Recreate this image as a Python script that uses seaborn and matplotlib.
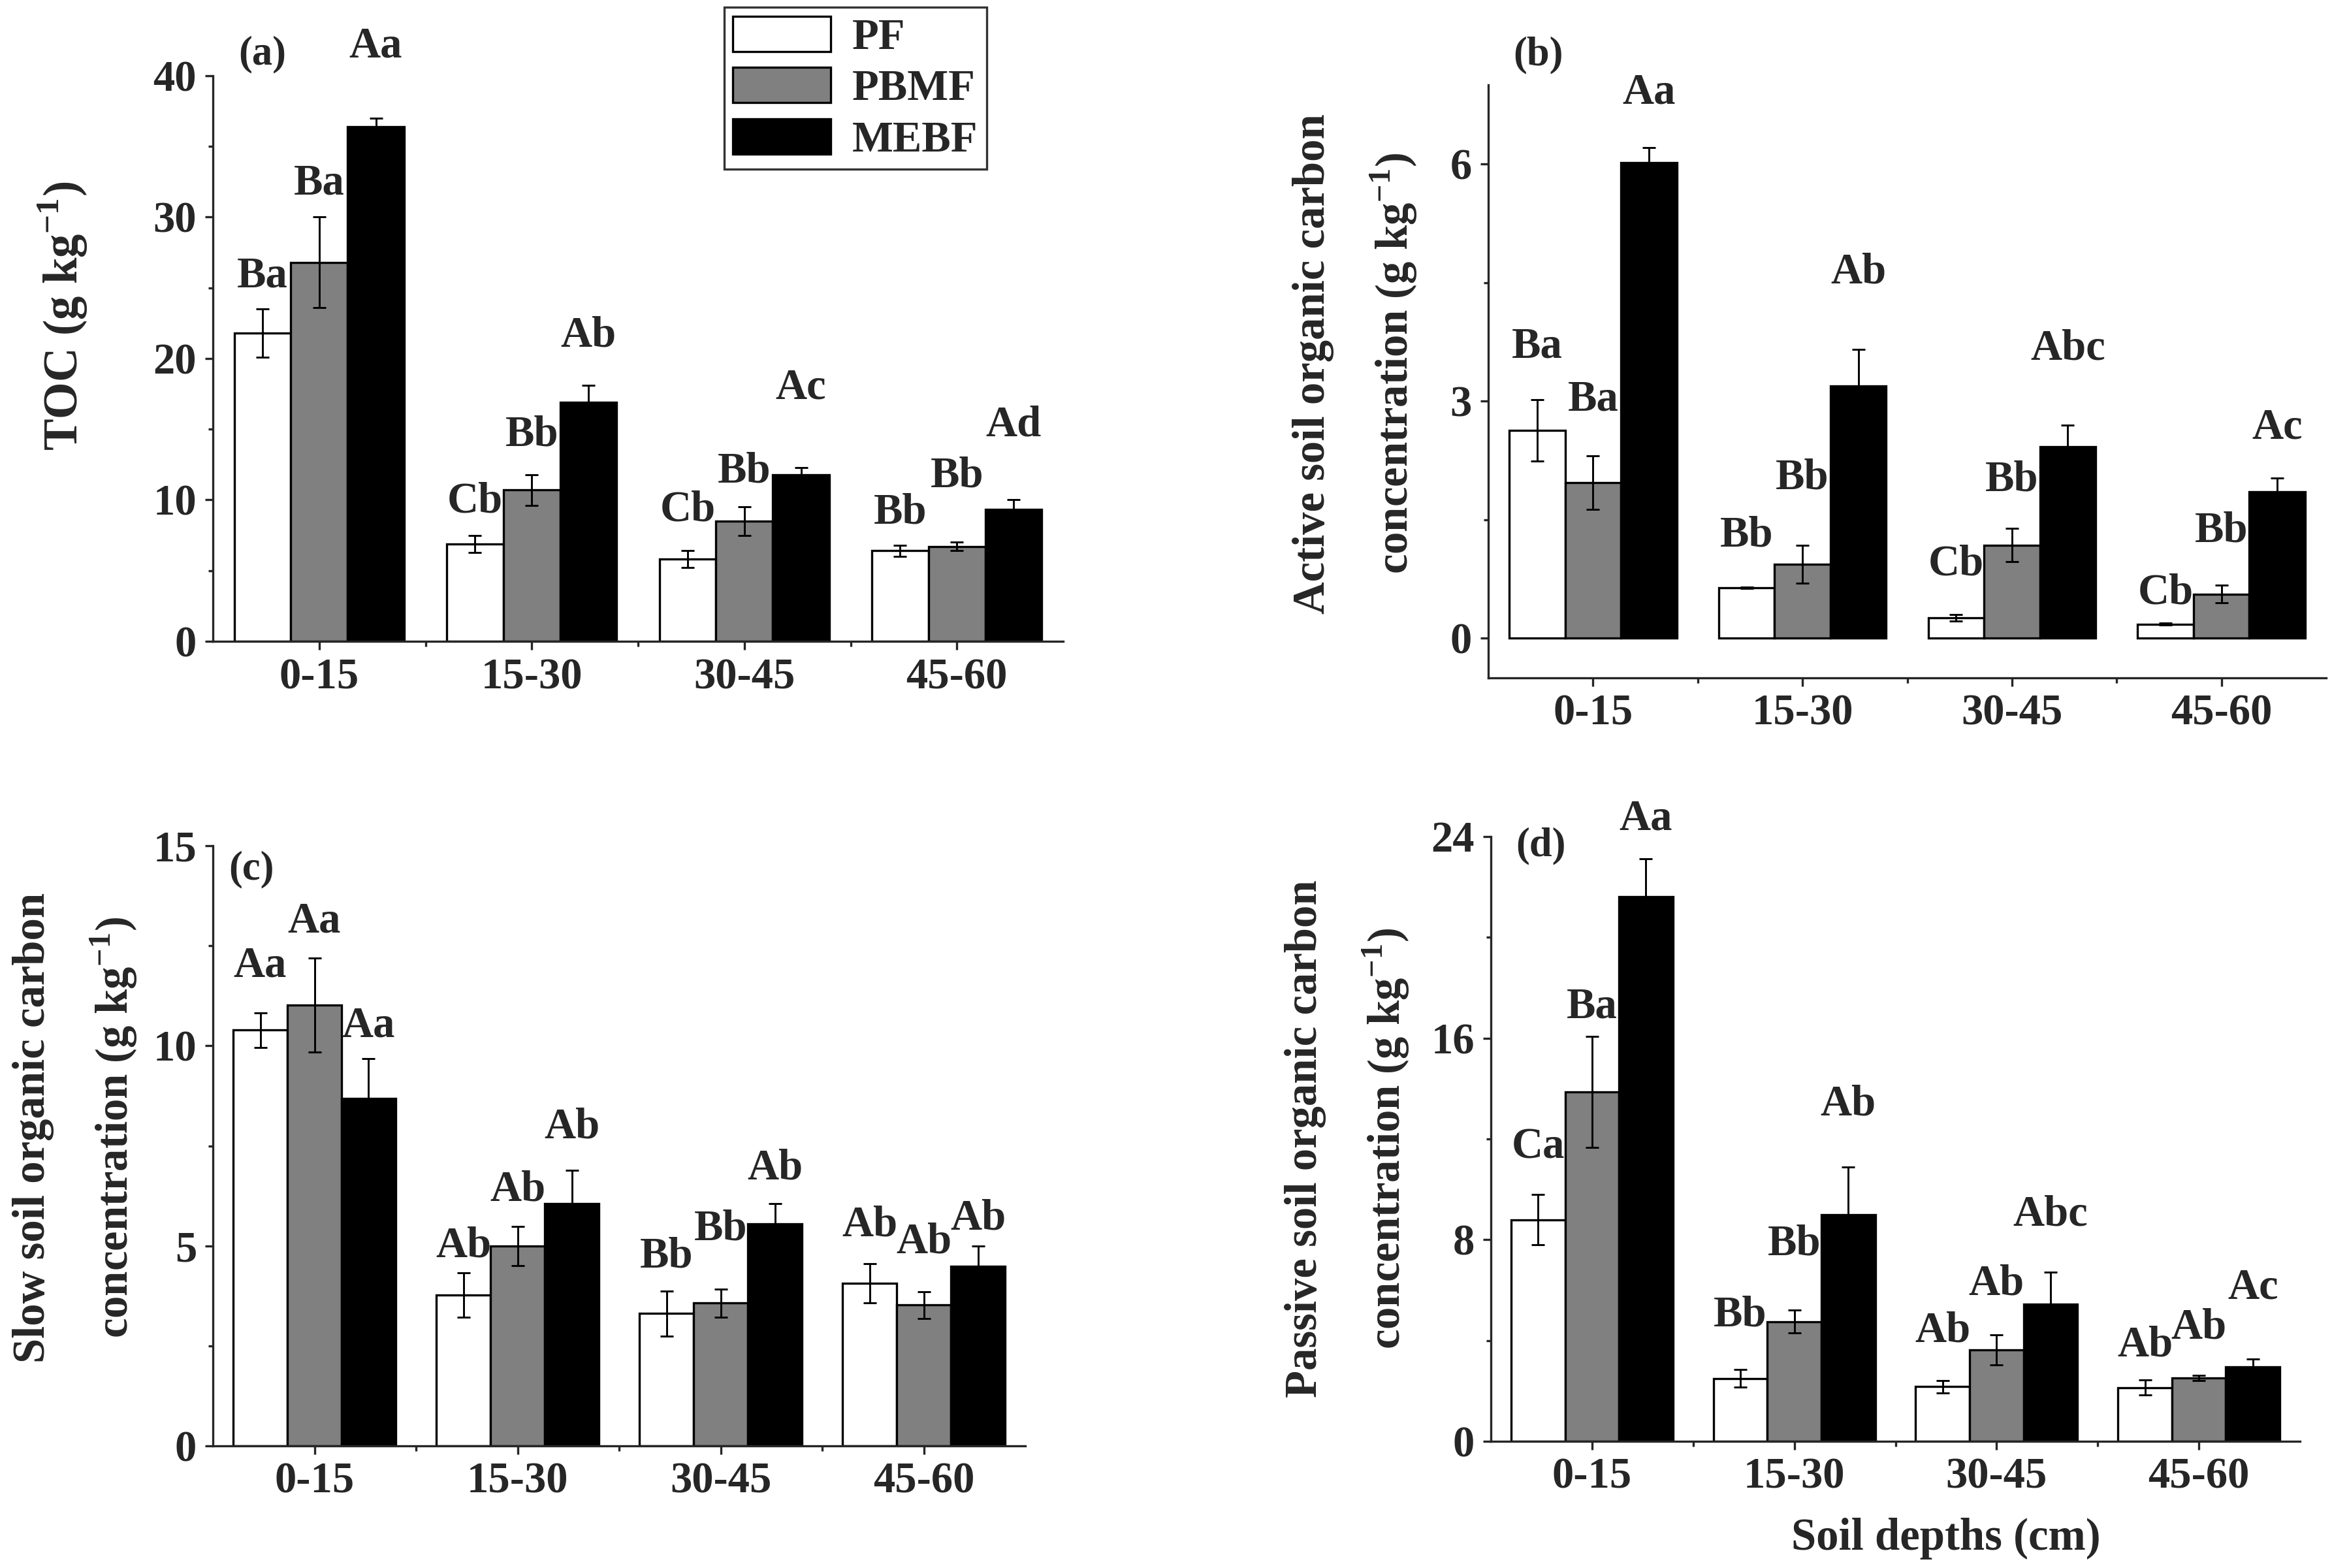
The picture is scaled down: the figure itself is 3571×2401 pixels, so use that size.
import numpy as np
import pandas as pd
import matplotlib
matplotlib.use('Agg')
import matplotlib.pyplot as plt
import seaborn as sns

# categories
depths = ['0-15', '15-30', '30-45', '45-60']
forests = ['PF', 'PBMF', 'MEBF']
bar_colors = ['white', '#808080', 'black']

# each panel: rows = PF, PBMF, MEBF ; columns = depth classes
toc_mean = [[21.8, 6.9, 5.8, 6.4], [26.8, 10.7, 8.5, 6.7], [36.4, 16.9, 11.8, 9.35]]
toc_err = [[1.7, 0.6, 0.6, 0.4], [3.2, 1.1, 1.0, 0.3], [0.6, 1.2, 0.5, 0.65]]
toc_letters = [['Ba', 'Cb', 'Cb', 'Bb'], ['Ba', 'Bb', 'Bb', 'Bb'], ['Aa', 'Ab', 'Ac', 'Ad']]
toc_label_y = [[25.8, 9.9, 9.3, 9.1], [32.4, 14.6, 12.0, 11.7], [42.1, 21.6, 17.9, 15.3]]

active_mean = [[2.63, 0.64, 0.26, 0.18], [1.97, 0.94, 1.18, 0.56], [6.02, 3.19, 2.42, 1.85]]
active_err = [[0.39, 0.01, 0.04, 0.01], [0.34, 0.24, 0.21, 0.11], [0.19, 0.46, 0.28, 0.18]]
active_letters = [['Ba', 'Bb', 'Cb', 'Cb'], ['Ba', 'Bb', 'Bb', 'Bb'], ['Aa', 'Ab', 'Abc', 'Ac']]
active_label_y = [[3.69, 1.30, 0.94, 0.57], [3.02, 2.03, 2.0, 1.36], [6.90, 4.63, 3.66, 2.66]]

slow_mean = [[10.39, 3.77, 3.31, 4.06], [11.02, 5.0, 3.57, 3.52], [8.69, 6.05, 5.55, 4.49]]
slow_err = [[0.44, 0.55, 0.56, 0.49], [1.17, 0.49, 0.35, 0.34], [0.99, 0.84, 0.5, 0.51]]
slow_letters = [['Aa', 'Ab', 'Bb', 'Ab'], ['Aa', 'Ab', 'Bb', 'Ab'], ['Aa', 'Ab', 'Ab', 'Ab']]
slow_label_y = [[12.0, 5.0, 4.74, 5.52], [13.1, 6.4, 5.42, 5.1], [10.5, 7.97, 6.93, 5.68]]

passive_mean = [[8.79, 2.49, 2.17, 2.13], [13.86, 4.75, 3.62, 2.52], [21.61, 8.99, 5.45, 2.96]]
passive_err = [[1.0, 0.35, 0.25, 0.3], [2.2, 0.45, 0.6, 0.1], [1.5, 1.9, 1.25, 0.3]]
passive_letters = [['Ca', 'Bb', 'Ab', 'Ab'], ['Ba', 'Bb', 'Ab', 'Ab'], ['Aa', 'Ab', 'Abc', 'Ac']]
passive_label_y = [[11.67, 5.01, 4.37, 3.82], [17.24, 7.83, 6.24, 4.51], [24.7, 13.36, 8.99, 6.1]]

sns.set_style('ticks')
plt.rcParams['font.family'] = ['Liberation Serif', 'DejaVu Serif']
plt.rcParams['font.weight'] = 'bold'
plt.rcParams['mathtext.fontset'] = 'custom'
plt.rcParams['mathtext.rm'] = 'Liberation Serif:bold'
plt.rcParams['mathtext.bf'] = 'Liberation Serif:bold'
plt.rcParams['axes.linewidth'] = 0.8

FS = 16


def draw_panel(ax, mean, err, letters, label_y, ylim, yticks, ylabel, ylabel_xy, ylabel_fs,
               tag, tag_xy, legend=False):
    rows = []
    for i, f in enumerate(forests):
        for j, d in enumerate(depths):
            rows.append({'depth': d, 'forest': f, 'value': mean[i][j]})
    df = pd.DataFrame(rows)
    sns.barplot(data=df, x='depth', y='value', hue='forest', order=depths, hue_order=forests,
                palette=bar_colors, saturation=1, edgecolor='black', linewidth=0.8,
                errorbar=None, width=0.8, ax=ax, legend=legend)
    bar_sets = list(ax.containers)
    for i, cont in enumerate(bar_sets):
        for j, bar in enumerate(cont):
            x = bar.get_x() + bar.get_width() / 2
            ax.errorbar(x, bar.get_height(), yerr=err[i][j], fmt='none', ecolor='black',
                        elinewidth=0.7, capsize=2.5, capthick=0.7)
            ax.text(x, label_y[i][j], letters[i][j], ha='center', va='center',
                    fontsize=FS, fontweight='bold')
    ax.set_xlim(-0.5, 3.5)
    ax.set_ylim(*ylim)
    ax.set_yticks(yticks)
    step = yticks[1] - yticks[0]
    ax.set_yticks(np.arange(yticks[0] + step / 2, ylim[1], step), minor=True)
    ax.set_xticks([0.5, 1.5, 2.5], minor=True)
    ax.tick_params(axis='both', which='major', labelsize=FS, length=3, width=0.8, pad=3)
    ax.tick_params(axis='both', which='minor', length=1.8, width=0.8)
    ax.set_xlabel('')
    ax.set_ylabel(ylabel, fontsize=ylabel_fs, fontweight='bold', va='center', linespacing=1.86)
    ax.yaxis.set_label_coords(*ylabel_xy)
    sns.despine(ax=ax)
    ax.text(tag_xy[0], tag_xy[1], tag, transform=ax.transAxes, ha='center', va='center',
            fontsize=15, fontweight='bold')


unit = r'(g kg$^{\mathbf{-1}}$)'
fig = plt.figure(figsize=(3571 / 300, 2401 / 300), dpi=300)
ax_a = fig.add_axes([0.0913, 0.5910, 0.3646, 0.3607])
ax_b = fig.add_axes([0.6382, 0.5677, 0.3593, 0.3782])
ax_c = fig.add_axes([0.0913, 0.0779, 0.3484, 0.3827])
ax_d = fig.add_axes([0.6393, 0.0808, 0.3470, 0.3857])

draw_panel(ax_a, toc_mean, toc_err, toc_letters, toc_label_y, (0, 40), [0, 10, 20, 30, 40],
           'TOC ' + unit, (-0.177, 0.575), 17.5, '(a)', (0.058, 1.038), legend=True)
draw_panel(ax_b, active_mean, active_err, active_letters, active_label_y, (-0.5, 7), [0, 3, 6],
           'Active soil organic carbon\nconcentration ' + unit, (-0.158, 0.53), 16.5,
           '(b)', (0.06, 1.05))
draw_panel(ax_c, slow_mean, slow_err, slow_letters, slow_label_y, (0, 15), [0, 5, 10, 15],
           'Slow soil organic carbon\nconcentration ' + unit, (-0.169, 0.53), 16.5,
           '(c)', (0.047, 0.96))
draw_panel(ax_d, passive_mean, passive_err, passive_letters, passive_label_y, (0, 24), [0, 8, 16, 24],
           'Passive soil organic carbon\nconcentration ' + unit, (-0.177, 0.5), 16.5,
           '(d)', (0.062, 0.984))

ax_d.text(0.5625, -0.161, 'Soil depths (cm)', transform=ax_d.transAxes, ha='center', va='center',
          fontsize=16.5, fontweight='bold')

handles, labels = ax_a.get_legend_handles_labels()
ax_a.legend(handles, labels, loc='upper left', bbox_to_anchor=(0.601, 1.121), frameon=True,
            fancybox=False, edgecolor='#333333', framealpha=1,
            handlelength=2.25, handleheight=0.87, labelspacing=0.22, borderpad=0.2,
            handletextpad=0.5, borderaxespad=0,
            prop={'family': 'Liberation Serif', 'weight': 'bold', 'size': FS})
ax_a.get_legend().get_frame().set_linewidth(0.8)

fig.savefig('out.png', dpi=300)
